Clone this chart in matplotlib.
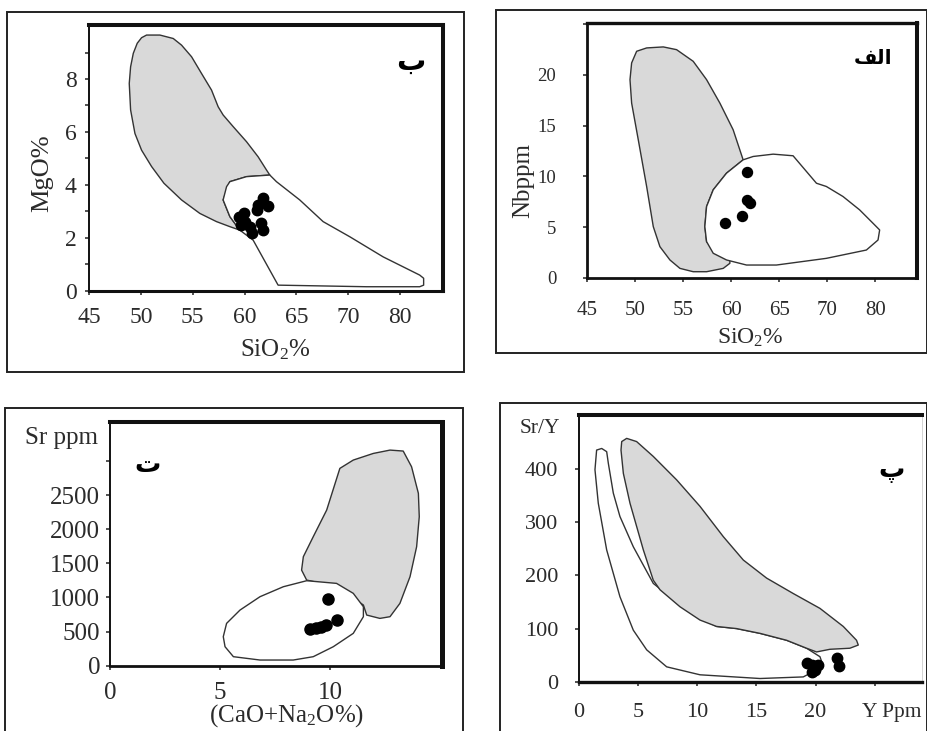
import matplotlib
matplotlib.use("Agg")
import matplotlib.pyplot as plt
from matplotlib.patches import Polygon, Rectangle

plt.rcParams['font.family'] = ['Liberation Serif', 'DejaVu Sans']
plt.rcParams['mathtext.fontset'] = 'custom'
plt.rcParams['mathtext.rm'] = 'Liberation Serif'
plt.rcParams['mathtext.it'] = 'Liberation Serif:italic'

# ---------------- DATA ----------------
# Panel ب : MgO vs SiO2
b_gray_x = [50.53, 51.82, 53.11, 53.91, 54.88, 55.84, 56.81, 57.45, 57.93, 58.90, 60.19,
            61.31, 62.12, 62.44, 60.19, 58.58, 57.93, 58.58, 59.54, 58.58, 57.29, 55.68,
            53.91, 52.21, 51.02, 50.05, 49.41, 48.99, 48.86, 48.99, 49.25, 49.63, 50.05]
b_gray_y = [9.66, 9.66, 9.53, 9.28, 8.84, 8.21, 7.58, 6.95, 6.64, 6.20, 5.63,
            5.06, 4.56, 4.37, 4.31, 4.12, 3.43, 2.80, 2.29, 2.42, 2.61, 2.92,
            3.43, 4.06, 4.69, 5.31, 5.94, 6.83, 7.83, 8.46, 8.97, 9.35, 9.56]
b_white_x = [58.58, 60.19, 62.44, 63.08, 65.33, 67.59, 70.16, 73.38, 76.92, 77.30, 77.30,
             76.92, 71.77, 63.24, 60.83, 59.54, 58.58, 57.93, 58.26]
b_white_y = [4.12, 4.31, 4.37, 4.12, 3.43, 2.61, 2.04, 1.28, 0.59, 0.47, 0.21,
             0.15, 0.15, 0.21, 1.91, 2.29, 2.80, 3.43, 3.93]
b_pts_x = [61.8, 62.3, 61.3, 61.2, 59.9, 59.5, 60.0, 60.5, 61.6, 61.8, 60.7, 59.7]
b_pts_y = [3.49, 3.20, 3.24, 3.05, 2.93, 2.80, 2.61, 2.42, 2.55, 2.29, 2.17, 2.48]
sio2_ticks = [45, 50, 55, 60, 65, 70, 75]
sio2_tick_labels = ["45", "50", "55", "60", "65", "70", "80"]
mgo_ticks = [0, 2, 4, 6, 8]
mgo_minor_ticks = [1, 3, 5, 7, 9]

# Panel الف : Nb vs SiO2
a_gray_x = [49.67, 50.19, 51.23, 52.96, 54.34, 56.07, 57.46, 58.84, 60.22, 61.26, 59.53,
            58.15, 57.46, 57.28, 57.46, 58.49, 59.88, 59.88, 59.19, 57.46, 56.07, 54.69,
            53.65, 52.61, 51.92, 51.23, 50.36, 49.67, 49.50]
a_gray_y = [21.19, 22.34, 22.67, 22.77, 22.50, 21.35, 19.54, 17.23, 14.60, 11.63, 10.31,
            8.67, 7.02, 5.04, 3.56, 2.41, 1.75, 1.42, 0.92, 0.59, 0.59, 0.92,
            1.75, 3.06, 5.04, 9.00, 13.61, 17.23, 19.54]
a_white_x = [61.26, 62.30, 64.38, 66.45, 68.88, 69.91, 71.64, 73.37, 74.76, 75.45, 75.28,
             74.07, 69.91, 64.72, 61.61, 59.53, 58.15, 57.46, 57.28, 57.46, 58.15, 59.53]
a_white_y = [11.63, 11.96, 12.19, 12.03, 9.32, 9.00, 8.01, 6.69, 5.37, 4.71, 3.72,
             2.73, 1.91, 1.25, 1.25, 1.75, 2.41, 3.56, 5.04, 7.02, 8.67, 10.31]
a_pts_x = [61.68, 61.68, 62.02, 61.19, 59.36]
a_pts_y = [10.38, 7.68, 7.35, 6.10, 5.44]
nb_ticks = [0, 5, 10, 15, 20, 25]
nb_tick_labels = ["0", "5", "10", "15", "20", ""]

# Panel ت : Sr vs CaO+Na2O
t_gray_x = [10.45, 11.06, 11.97, 12.73, 13.33, 13.71, 14.02, 14.06, 13.94, 13.64, 13.18,
            12.73, 12.27, 11.67, 11.52, 10.30, 8.94, 8.71, 8.79, 9.24, 9.85]
t_gray_y = [2891, 3013, 3110, 3159, 3145, 2915, 2525, 2183, 1743, 1304, 913,
            718, 693, 742, 889, 1157, 1255, 1401, 1597, 1890, 2280]
t_white_x = [5.15, 5.30, 5.91, 6.82, 7.88, 8.94, 10.30, 11.06, 11.52, 11.52, 11.06,
             10.15, 9.24, 8.33, 6.82, 5.61, 5.23]
t_white_y = [425, 620, 815, 1011, 1157, 1245, 1206, 1060, 864, 718, 474,
             278, 132, 83, 83, 132, 278]
t_pts_x = [9.10, 9.35, 9.60, 9.80, 9.92, 10.33]
t_pts_y = [540, 555, 570, 600, 973, 670]
cn_ticks = [0, 5, 10]
sr_ticks = [0, 500, 1000, 1500, 2000, 2500, 3000]
sr_tick_labels = ["0", "500", "1000", "1500", "2000", "2500", ""]

# Panel پ : Sr/Y vs Y
p_gray_x = [3.61, 4.03, 4.87, 6.28, 8.25, 10.23, 12.20, 13.89, 15.86, 18.11, 20.37,
            22.34, 23.46, 23.61, 22.90, 21.21, 20.08, 19.24, 17.55, 15.30, 13.32, 11.63,
            10.23, 8.54, 6.85, 6.28, 5.44, 4.31, 3.75, 3.55]
p_gray_y = [452, 458, 452, 424, 380, 330, 273, 229, 195, 166, 138,
            104, 78, 69, 63, 61, 56, 63, 78, 91, 100, 104,
            116, 141, 173, 191, 248, 336, 392, 436]
p_white_x = [1.49, 1.92, 2.34, 2.48, 2.90, 3.46, 4.59, 6.28, 7.69, 9.66, 11.63,
             13.32, 15.30, 17.55, 19.24, 20.37, 20.51, 19.80, 18.96, 15.30, 10.23,
             7.41, 5.72, 4.59, 3.46, 2.34, 1.63, 1.35]
p_white_y = [436, 439, 433, 411, 355, 311, 254, 185, 160, 126, 104,
             100, 91, 78, 63, 47, 38, 19, 9, 6, 13,
             28, 60, 97, 160, 248, 336, 399]
p_pts_x = [19.25, 19.67, 20.20, 19.95, 19.67, 21.80, 22.00]
p_pts_y = [34.6, 31.4, 31.4, 22.0, 18.8, 44.0, 29.6]
y_ticks = [0, 5, 10, 15, 20, 25]
y_tick_labels = ["0", "5", "10", "15", "20", ""]
sry_ticks = [0, 100, 200, 300, 400]

panel_labels = {"b": "ب", "alef": "\uFED2\uFEDF\uFE8D", "t": "ت", "p": "پ"}

# ---------------- FIGURE ----------------
W, H = 928, 731
fig = plt.figure(figsize=(W / 100, H / 100), dpi=100)
fig.patch.set_facecolor('white')

TXT = '#2b2b2b'
LINE = '#333333'
GRAY = '#d9d9d9'


def px_axes(l, t, r, b):
    return fig.add_axes([l / W, 1 - b / H, (r - l) / W, (b - t) / H])


def frame(l, t, r, b):
    fig.add_artist(Rectangle((l / W, 1 - b / H), (r - l) / W, (b - t) / H,
                             transform=fig.transFigure, fill=False, lw=1.4, ec='#222222',
                             clip_on=False))


def ftext(x, y, s, **kw):
    kw.setdefault('color', TXT)
    fig.text(x / W, 1 - y / H, s, **kw)


def style(ax, lw_top, lw_right, lw_bottom, lw_left, size, xpad, ypad):
    for side, lw in (('top', lw_top), ('right', lw_right), ('bottom', lw_bottom), ('left', lw_left)):
        ax.spines[side].set_linewidth(lw)
        ax.spines[side].set_color('#111111')
    ax.tick_params(direction='out', length=3, width=1.1, colors='#222222',
                   labelcolor=TXT, labelsize=size)
    ax.tick_params(axis='x', pad=xpad)
    ax.tick_params(axis='y', pad=ypad)


def shapes(ax, gx, gy, wx, wy, px, py, ms, white_first=False):
    g = Polygon(list(zip(gx, gy)), closed=True, fc=GRAY, ec=LINE, lw=1.0, zorder=2,
                joinstyle='round')
    w = Polygon(list(zip(wx, wy)), closed=True, fc='white', ec=LINE, lw=1.0,
                zorder=1 if white_first else 3, joinstyle='round')
    ax.add_patch(g)
    ax.add_patch(w)
    ax.plot(px, py, 'o', color='black', ms=ms, zorder=5)


# Frames (bottom ones run off the lower edge of the picture)
frame(7, 12, 464, 372)
frame(496, 10, 927, 353)
frame(5, 408, 463, 740)
frame(500, 403, 927, 740)

# Panel ب
ax = px_axes(89.3, 25, 443.3, 290.7)
shapes(ax, b_gray_x, b_gray_y, b_white_x, b_white_y, b_pts_x, b_pts_y, 7.5)
ax.set_xlim(45, 79.2)
ax.set_ylim(0, 10.04)
ax.set_xticks(sio2_ticks)
ax.set_xticklabels(sio2_tick_labels)
ax.set_yticks(mgo_ticks)
ax.set_yticks(mgo_minor_ticks, minor=True)
ax.tick_params(which='minor', direction='out', length=3, width=1.1, colors='#222222')
style(ax, 2.9, 2.9, 2.2, 1.4, 17, 9, 6)
ftext(42, 173, "MgO%", rotation=90, ha='center', va='center', fontsize=19)
ftext(275, 350, "SiO$_2$%", ha='center', va='center', fontsize=18)
ftext(411, 62, panel_labels["b"], ha='center', va='center', fontsize=21,
      family='DejaVu Sans', weight='bold', color='black')

# Panel الف
ax = px_axes(586.7, 23.3, 916.7, 277.7)
shapes(ax, a_gray_x, a_gray_y, a_white_x, a_white_y, a_pts_x, a_pts_y, 7.2)
ax.set_xlim(45, 79.3)
ax.set_ylim(0, 25.1)
ax.set_xticks(sio2_ticks)
ax.set_xticklabels(sio2_tick_labels)
ax.set_yticks(nb_ticks)
ax.set_yticklabels(nb_tick_labels)
style(ax, 2.4, 2.9, 2.0, 2.0, 15, 14, 19)
ax.tick_params(axis='y', labelsize=13.5)
ftext(523, 180, "Nbppm", rotation=90, ha='center', va='center', fontsize=18)
ftext(750, 338, "SiO$_2$%", ha='center', va='center', fontsize=17)
ftext(873, 58, panel_labels["alef"], ha='center', va='center', fontsize=14.5,
      family='DejaVu Sans', weight='bold', color='black')

# Panel ت
ax = px_axes(110, 421.7, 441.7, 665.7)
shapes(ax, t_gray_x, t_gray_y, t_white_x, t_white_y, t_pts_x, t_pts_y, 8)
ax.set_xlim(0, 15.08)
ax.set_ylim(0, 3575)
ax.set_xticks(cn_ticks)
ax.set_yticks(sr_ticks)
ax.set_yticklabels(sr_tick_labels)
style(ax, 2.9, 3.6, 2.0, 1.4, 18, 9, 4)
ftext(62, 438, "Sr ppm", ha='center', va='center', fontsize=18)
ftext(287, 716, "(CaO+Na$_2$O%)", ha='center', va='center', fontsize=18)
ftext(148, 465, panel_labels["t"], ha='center', va='center', fontsize=19,
      family='DejaVu Sans', weight='bold', color='black')

# Panel پ
ax = px_axes(579, 415, 921.7, 681.7)
shapes(ax, p_gray_x, p_gray_y, p_white_x, p_white_y, p_pts_x, p_pts_y, 7.5, white_first=True)
ax.set_xlim(0, 28.97)
ax.set_ylim(0, 502)
ax.set_xticks(y_ticks)
ax.set_xticklabels(y_tick_labels)
ax.set_yticks(sry_ticks)
style(ax, 2.9, 0.6, 2.4, 1.4, 16, 12, 12)
ax.spines['right'].set_color('#cccccc')
ftext(540, 428, "Sr/Y", ha='center', va='center', fontsize=15.5)
ftext(892, 712, "Y Ppm", ha='center', va='center', fontsize=15.5)
ftext(892, 470, panel_labels["p"], ha='center', va='center', fontsize=19,
      family='DejaVu Sans', weight='bold', color='black')

fig.savefig("out.png", dpi=100, facecolor='white')
